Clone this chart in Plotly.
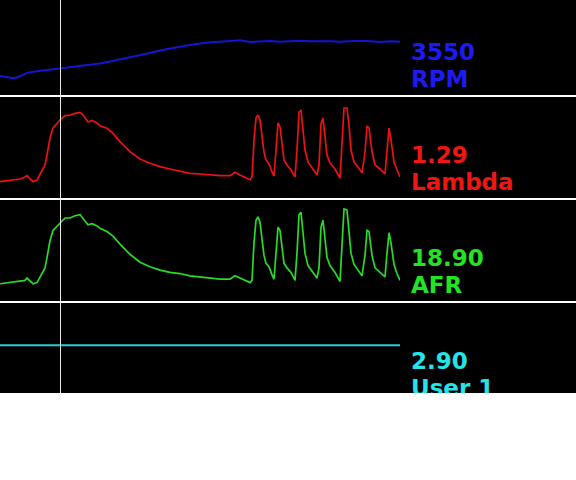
import plotly.graph_objects as go

# time axis: seconds (0-40 s shown)
rpm_t = [0, 0.5, 1.0, 1.4, 1.8, 2.2, 2.8, 3.5, 4.5, 5.5, 6.0, 7.0, 8.0, 9.0, 10.0,
         11.0, 12.0, 13.0, 14.0, 15.0, 16.0, 17.0, 17.7, 18.5, 19.5, 20.0, 21.0,
         22.0, 23.0, 24.0, 25.0, 26.0, 27.0, 28.0, 29.0, 30.0, 31.0, 32.0, 33.0,
         34.0, 35.0, 36.0, 37.0, 38.0, 39.0, 40.0]
rpm = [2515, 2494, 2464, 2446, 2485, 2545, 2614, 2650, 2686, 2716, 2734, 2770,
       2815, 2845, 2890, 2950, 3010, 3070, 3136, 3205, 3280, 3340, 3394, 3424,
       3466, 3490, 3526, 3544, 3574, 3586, 3535, 3556, 3565, 3544, 3565, 3574,
       3556, 3565, 3556, 3544, 3556, 3574, 3556, 3535, 3556, 3544]

mix_t = [0, 1.0, 2.0, 2.5, 2.7, 3.0, 3.3, 3.7, 4.2, 4.5, 4.7, 5.0, 5.3, 5.7, 6.0,
         6.5, 7.0, 7.5, 8.0, 8.3, 8.8, 9.2, 9.7, 10.0, 10.7, 11.3, 12.0, 13.0,
         14.0, 15.0, 16.0, 17.0, 18.0, 19.0, 20.0, 21.0, 22.0, 23.0, 23.5, 24.0,
         24.5, 25.0, 25.2, 25.4, 25.6, 25.8, 26.0, 26.2, 26.4, 26.6, 26.9, 27.2,
         27.4, 27.6, 27.8, 28.0, 28.2, 28.4, 28.7, 29.1, 29.5, 29.7, 29.9, 30.1,
         30.3, 30.5, 30.8, 31.2, 31.7, 31.9, 32.1, 32.3, 32.5, 32.7, 33.0, 33.5,
         34.0, 34.2, 34.4, 34.7, 34.9, 35.1, 35.4, 35.8, 36.2, 36.5, 36.7, 36.9,
         37.2, 37.5, 38.0, 38.5, 38.7, 38.9, 39.1, 39.4, 39.7, 40.0]
lambda_ = [0.804, 0.812, 0.820, 0.832, 0.840, 0.820, 0.804, 0.814, 0.874, 0.904,
           0.964, 1.066, 1.126, 1.156, 1.174, 1.200, 1.204, 1.214, 1.220, 1.204,
           1.162, 1.171, 1.156, 1.140, 1.124, 1.094, 1.044, 0.984, 0.940, 0.914,
           0.894, 0.880, 0.868, 0.854, 0.850, 0.844, 0.840, 0.840, 0.860, 0.844,
           0.832, 0.816, 0.832, 1.054, 1.186, 1.204, 1.174, 1.084, 0.982, 0.934,
           0.910, 0.862, 0.838, 0.994, 1.156, 1.132, 1.024, 0.934, 0.904, 0.874,
           0.832, 0.994, 1.222, 1.234, 1.114, 0.994, 0.922, 0.886, 0.844, 0.904,
           1.150, 1.186, 1.084, 0.964, 0.916, 0.880, 0.826, 1.054, 1.246, 1.246,
           1.144, 0.994, 0.922, 0.892, 0.856, 0.982, 1.138, 1.126, 0.982, 0.904,
           0.880, 0.850, 0.994, 1.126, 1.054, 0.922, 0.874, 0.832]
afr = [11.9, 12.0, 12.1, 12.2, 12.4, 12.1, 11.9, 12.0, 12.8, 13.3,
       14.2, 15.7, 16.6, 17.0, 17.3, 17.7, 17.7, 17.9, 18.0, 17.7,
       17.1, 17.2, 17.0, 16.8, 16.5, 16.1, 15.4, 14.5, 13.8, 13.4,
       13.1, 12.9, 12.8, 12.6, 12.5, 12.4, 12.3, 12.3, 12.6, 12.4,
       12.2, 12.0, 12.2, 15.5, 17.5, 17.8, 17.3, 15.9, 14.4, 13.7,
       13.4, 12.7, 12.3, 14.6, 16.9, 16.6, 15.0, 13.7, 13.3, 12.9,
       12.2, 14.6, 18.0, 18.2, 16.4, 14.6, 13.5, 13.0, 12.4, 13.3,
       16.9, 17.5, 15.9, 14.2, 13.5, 12.9, 12.1, 15.5, 18.5, 18.4,
       16.8, 14.6, 13.6, 13.1, 12.6, 14.4, 16.6, 16.5, 14.4, 13.3,
       12.9, 12.5, 14.6, 16.4, 15.5, 13.6, 12.8, 12.2]

user_t = [0, 40]
user1 = [2.90, 2.90]

cursor_t = 6.05

channels = ['RPM', 'Lambda', 'AFR', 'User 1']
readouts = ['3550', '1.29', '18.90', '2.90']
line_colors = ['#1414D4', '#EC1212', '#26DC26', '#22D2DA']
text_colors = ['#1C1CF0', '#F01616', '#22E422', '#24E4E8']
y_ranges = [[1915, 4795], [0.700, 1.318], [10.29, 19.375], [0.5825, 5.0]]

W, H = 576, 393
panel_bottoms = [96, 199, 302, 405]  # pixel rows of the divider lines


def py(pix):
    return 1 - pix / H


fig = go.Figure()
series = [(rpm_t, rpm, 2.0), (mix_t, lambda_, 1.7), (mix_t, afr, 1.7), (user_t, user1, 2.2)]
for i, (t, v, lw) in enumerate(series):
    fig.add_trace(go.Scatter(
        x=t, y=v, mode='lines', name=channels[i],
        line=dict(color=line_colors[i], width=lw),
        yaxis='y' if i == 0 else f'y{i + 1}',
        hoverinfo='skip'
    ))

axis_off = dict(showgrid=False, zeroline=False, showticklabels=False, showline=False, ticks='')
layout = dict(
    width=W, height=H,
    margin=dict(l=0, r=0, t=0, b=0),
    paper_bgcolor='black', plot_bgcolor='black',
    showlegend=False,
    xaxis=dict(domain=[0, 400 / W], range=[0, 40], **axis_off),
)
tops = [0, 96, 199, 302]
bots = [96, 199, 302, H]
for i in range(4):
    key = 'yaxis' if i == 0 else f'yaxis{i + 1}'
    layout[key] = dict(domain=[py(bots[i]), py(tops[i])], range=y_ranges[i], **axis_off)
fig.update_layout(**layout)

# divider lines and cursor
for b in panel_bottoms[:3]:
    fig.add_shape(type='line', xref='paper', yref='paper', x0=0, x1=1, y0=py(b), y1=py(b),
                  line=dict(color='white', width=2))
fig.add_shape(type='line', xref='x', yref='paper', x0=cursor_t, x1=cursor_t, y0=0, y1=1,
              line=dict(color='#E8E8E8', width=1), layer='above')

# readouts; the last panel is cut off by the bottom edge, as on the logger screen
fnt = dict(family='DejaVu Sans', size=23, weight='bold')
for i, b in enumerate(panel_bottoms):
    fig.add_annotation(x=409.5 / W, y=py(b - 44), xref='paper', yref='paper', text=readouts[i],
                       showarrow=False, xanchor='left', yanchor='middle', borderpad=0,
                       font=dict(color=text_colors[i], **fnt))
    fig.add_annotation(x=409.5 / W, y=py(b - 17), xref='paper', yref='paper', text=channels[i],
                       showarrow=False, xanchor='left', yanchor='middle', borderpad=0,
                       font=dict(color=text_colors[i], **fnt))

fig.write_html("out.html", config={'displayModeBar': False},
               post_script="document.body.style.margin='0';")
